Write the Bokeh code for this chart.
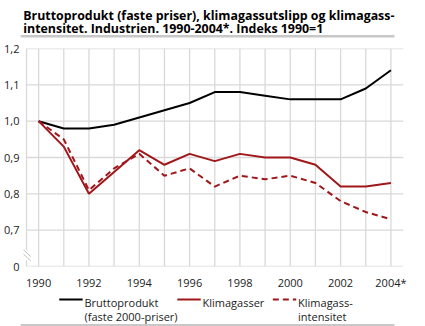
from bokeh.plotting import figure
from bokeh.layouts import column
from bokeh.models import FixedTicker, Range1d
from bokeh.core.properties import value
from bokeh.embed import file_html
from bokeh.resources import INLINE

years = list(range(1990, 2005))
bruttoprodukt = [1.00, 0.98, 0.98, 0.99, 1.01, 1.03, 1.05, 1.08, 1.08, 1.07, 1.06, 1.06, 1.06, 1.09, 1.14]
klimagasser = [1.00, 0.93, 0.80, 0.86, 0.92, 0.88, 0.91, 0.89, 0.91, 0.90, 0.90, 0.88, 0.82, 0.82, 0.83]
intensitet = [1.00, 0.95, 0.81, 0.87, 0.91, 0.85, 0.87, 0.82, 0.85, 0.84, 0.85, 0.83, 0.78, 0.75, 0.73]
y_ticks = [0.6, 0.7, 0.8, 0.9, 1.0, 1.1, 1.2]
y_tick_labels = ["0", "0,7", "0,8", "0,9", "1,0", "1,1", "1,2"]
x_ticks = [1990, 1992, 1994, 1996, 1998, 2000, 2002, 2004]
x_tick_labels = ["1990", "1992", "1994", "1996", "1998", "2000", "2002", "2004*"]
title_lines = ["Bruttoprodukt (faste priser), klimagassutslipp og klimagass-",
               "intensitet. Industrien. 1990-2004*. Indeks 1990=1"]
series_names = [["Bruttoprodukt", "(faste 2000-priser)"], ["Klimagasser"], ["Klimagass-", "intensitet"]]
series_colors = ["black", "#a0171b", "#a0171b"]
series_dash = ["solid", "solid", "6 4"]

FONT = "Open Sans"
TITLE_FONT = "Open Sans"
GRID = "#d9d9d9"
TXT = "#222222"
SEP = "#c8c8c8"
W = 425

# ---------- header (title) ----------
head = figure(width=W, height=40, output_backend="svg", toolbar_location=None,
              x_range=Range1d(0, W), y_range=Range1d(40, 0),
              min_border=0, min_border_left=0, min_border_right=0, min_border_top=0, min_border_bottom=0)
head.axis.visible = False
head.grid.visible = False
head.outline_line_color = None
head.text(x=[3, 3], y=[14.5, 28], text=title_lines, text_font=value(TITLE_FONT),
          text_font_size="12.4px", text_font_style="bold", text_color="black",
          text_baseline="alphabetic", text_align="left")
head.quad(left=[0], right=[415], top=[34.5], bottom=[37], fill_color=SEP, line_color=None)

# ---------- main chart ----------
x0, x1 = 1989.28, 2004.5
p = figure(width=W, height=252, output_backend="svg", toolbar_location=None,
           x_range=Range1d(x0, x1), y_range=Range1d(0.6, 1.2),
           min_border_left=20, min_border_right=22, min_border_top=8, min_border_bottom=24)
p.outline_line_color = None
p.grid.visible = False

p.xaxis.ticker = FixedTicker(ticks=x_ticks)
p.xaxis.major_label_overrides = {t: l for t, l in zip(x_ticks, x_tick_labels)}
p.yaxis.ticker = FixedTicker(ticks=y_ticks)
p.yaxis.major_label_overrides = {t: l for t, l in zip(y_ticks, y_tick_labels)}
for ax in (p.xaxis, p.yaxis):
    ax.axis_line_color = None
    ax.major_tick_line_color = None
    ax.minor_tick_line_color = None
    ax.major_label_text_font = FONT
    ax.major_label_text_font_size = "11px"
    ax.major_label_text_color = TXT
p.xaxis.major_label_standoff = 2
p.yaxis.major_label_standoff = -5

xl = x_ticks[0] - 0.48  # left edge of the grid box
# horizontal grid lines
p.segment(x0=[xl] * len(y_ticks), y0=y_ticks, x1=[x1] * len(y_ticks), y1=y_ticks,
          line_color=GRID, line_width=1.3)
# vertical grid lines at each year
p.segment(x0=years, y0=[0.6] * len(years), x1=years, y1=[1.2] * len(years),
          line_color=GRID, line_width=1.3)
# left edge with axis break
p.segment(x0=[xl, xl], y0=[0.645, 0.6], x1=[xl, xl], y1=[1.2, 0.617],
          line_color=GRID, line_width=1.3)
p.segment(x0=[xl - 0.12, xl - 0.12], y0=[0.646, 0.634], x1=[xl + 0.17, xl + 0.17], y1=[0.627, 0.615],
          line_color="#c0c0c0", line_width=1)

series = [bruttoprodukt, klimagasser, intensitet]
for vals, c, d in zip(series, series_colors, series_dash):
    p.line(years, vals, line_color=c, line_width=2, line_dash=d)

# ---------- legend ----------
leg = figure(width=W, height=34, output_backend="svg", toolbar_location=None,
             x_range=Range1d(0, W), y_range=Range1d(326, 292),
             min_border=0, min_border_left=0, min_border_right=0, min_border_top=0, min_border_bottom=0)
leg.axis.visible = False
leg.grid.visible = False
leg.outline_line_color = None
lx = [43, 174, 280]
for i, (names, c, d) in enumerate(zip(series_names, series_colors, series_dash)):
    leg.line([lx[i], lx[i] + 26], [299, 299], line_color=c, line_width=2, line_dash=d)
    leg.text(x=[lx[i] + 28] * len(names), y=[302 + 14 * k for k in range(len(names))], text=names,
             text_font=value(FONT), text_font_size="11px", text_color=TXT,
             text_baseline="alphabetic", text_align="left")
leg.quad(left=[0], right=[415], top=[323.5], bottom=[326], fill_color=SEP, line_color=None)

layout = column(head, p, leg, spacing=0)
open("out.html", "w").write(file_html(layout, INLINE))
